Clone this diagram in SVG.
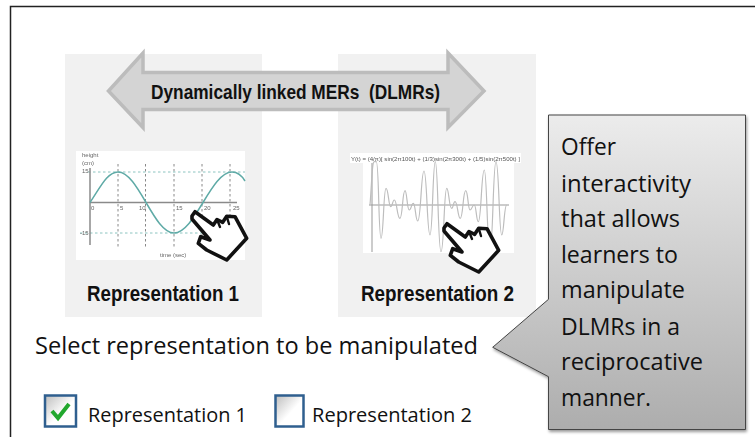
<svg xmlns="http://www.w3.org/2000/svg" width="755" height="437" viewBox="0 0 755 437">
<style>
.bold{font-family:"Liberation Sans",Arial,sans-serif;font-weight:700;fill:#111}
.body{font-family:"Open Sans","Noto Sans",sans-serif;fill:#111}
.tiny{font-family:"Liberation Sans",Arial,sans-serif;fill:#666;font-size:6px}
.panel{fill:#f1f1f1}
.grid{stroke:#888;stroke-width:1;stroke-dasharray:2.5 2.5;fill:none}
.teal{stroke:#8cc4c0;stroke-width:1;stroke-dasharray:2.5 2.5;fill:none}
.box{stroke:#2f5f8f;stroke-width:2.5}
</style>
<defs>
<linearGradient id="cg" x1="0" y1="0" x2="0" y2="1"><stop offset="0" stop-color="#ececec"/><stop offset="1" stop-color="#adadad"/></linearGradient>
<linearGradient id="bg" x1="0" y1="0" x2="1" y2="1"><stop offset="0" stop-color="#bdbdbd"/><stop offset=".55" stop-color="#fff"/></linearGradient>
<filter id="sh" x="-10%" y="-10%" width="125%" height="125%"><feDropShadow dx="1" dy="2" stdDeviation="1.5" flood-color="#000" flood-opacity=".4"/></filter>
<filter id="soft" x="-5%" y="-5%" width="110%" height="110%"><feGaussianBlur stdDeviation=".45"/></filter>
<g id="hand">
<path d="M192,216 L195,211.700 L213.300,225 L217,219.500 L222.700,222.300 L226.700,216.300 L235,216.700 L246.700,238.300 L226.700,260 L206.700,250 L198.300,243.300 L200.700,236.700 L210,240 L192,219Z" fill="#fff" stroke="#111" stroke-width="3.600" stroke-linejoin="round"/>
<path d="M217,219.500 L220,227 M226.700,216.300 L229,224" fill="none" stroke="#111" stroke-width="2.400" stroke-linecap="round"/>
</g>
</defs>
<rect width="755" height="437" fill="#fff"/>
<path id="frame" d="M10.500,437V6.500H755" fill="none" stroke="#222" stroke-width="1.500"/>
<g id="panel-1">
<rect class="panel" x="65" y="54" width="197" height="263"/>
<rect x="76" y="151" width="169" height="109" fill="#fff"/>
<g filter="url(#soft)">
<path class="grid" d="M118,164V249M145.500,164V249M174,164V249M202,164V249M230,164V249"/>
<path class="teal" d="M88,172H245M80,233H240"/>
<path d="M90,168V245M90,202.500H237" fill="none" stroke="#8a8a8a" stroke-width="1.500"/>
<path d="M90,202.500C100,188 107,172 118,172C138.400,172 153.600,233 174,233C195,233 211,172 232,172C238,172 242,176 245,181" fill="none" stroke="#5eaaa6" stroke-width="1.500"/>
<text class="tiny" x="82" y="157">height</text><text class="tiny" x="82" y="165">(cm)</text>
<text class="tiny" x="82" y="173">15</text><text class="tiny" x="80" y="235">-15</text>
<text class="tiny" x="91" y="210">0</text><text class="tiny" x="120" y="210">5</text><text class="tiny" x="139" y="210">10</text><text class="tiny" x="176" y="210">15</text><text class="tiny" x="204" y="210">20</text><text class="tiny" x="233" y="210">25</text>
<text class="tiny" x="160" y="257">time (sec)</text>
</g>
<text class="bold" x="87" y="300.500" font-size="22" textLength="152" lengthAdjust="spacingAndGlyphs">Representation 1</text>
</g>
<g id="panel-2">
<rect class="panel" x="338" y="54" width="198" height="263"/>
<rect x="350" y="153" width="171" height="10" fill="#fff"/>
<rect x="363" y="163" width="151" height="90" fill="#fff"/>
<g filter="url(#soft)">
<text class="tiny" x="351" y="160.500" font-size="6" textLength="169" lengthAdjust="spacingAndGlyphs" style="fill:#555">Y(t) = (4/π)[ sin(2π100t) + (1/3)sin(2π300t) + (1/5)sin(2π500t) ]</text>
<path d="M372,163V252M369,205H509" fill="none" stroke="#999" stroke-width="1"/>
<path d="M370,205C372,180 372,161.700 374.300,161.700L376.300,161.700C379,161.700 378.500,238.300 381,238.300C383.500,238.300 383.500,188.300 386,188.300C388.500,188.300 388.500,206.700 390.700,206.700C392.500,206.700 392.500,200 394.300,200C397,200 397,218.300 400,218.300C402.500,218.300 402.500,190.700 405,190.700C407,190.700 407,210 409.300,210C411.300,210 411.300,203.300 413.300,203.300C415.500,203.300 415.500,221 417.700,221C421,221 421,171 424,171C427,171 427,235 430,235C432.700,235 432.700,161.700 435.300,161.700C438,161.700 438,251.700 441,251.700C444,251.700 444,188.300 446.700,188.300C449,188.300 449,208.300 451.700,208.300C453.300,208.300 453.300,201.700 455,201.700C457.700,201.700 457.700,218.300 460.300,218.300C463,218.300 463,190.700 465.700,190.700C468,190.700 468,210 470,210C472,210 472,205 474.300,205C476.300,205 476.300,221.700 478.300,221.700C481.300,221.700 481.300,170 484.300,170C487,170 487,250 490,250C493,250 493,161.700 496,161.700C499,161.700 499,235 501.700,235C504,235 504,205 506.700,205" fill="none" stroke="#bdbdbd" stroke-width="1.200"/>
</g>
<text class="bold" x="361" y="300.500" font-size="22" textLength="153" lengthAdjust="spacingAndGlyphs">Representation 2</text>
</g>
<g id="hands">
<use href="#hand"/>
<use href="#hand" x="252" y="12"/>
</g>
<g id="linked-arrow">
<path d="M108.500,91L143,53V72.500H448V53L484,91L448,127.500V109.500H143V127.500Z" fill="#d4d4d4" stroke="#bcbcbc" stroke-width="3.500" stroke-linejoin="miter"/>
<text class="bold" x="151" y="99" font-size="20.500" textLength="289" lengthAdjust="spacingAndGlyphs" xml:space="preserve">Dynamically linked MERs  (DLMRs)</text>
</g>
<g id="callout">
<path d="M548.500,115H745.500V429.500H548.500V376.700L492.700,347.300L548.500,299.300Z" fill="url(#cg)" stroke="#444" stroke-width="1" filter="url(#sh)"/>
<g class="body" font-size="24">
<text x="561" y="155" textLength="55" lengthAdjust="spacingAndGlyphs">Offer</text>
<text x="561" y="191.500" textLength="130" lengthAdjust="spacingAndGlyphs">interactivity</text>
<text x="561" y="227" textLength="119" lengthAdjust="spacingAndGlyphs">that allows</text>
<text x="561" y="262.500" textLength="117" lengthAdjust="spacingAndGlyphs">learners to</text>
<text x="561" y="298" textLength="124" lengthAdjust="spacingAndGlyphs">manipulate</text>
<text x="561" y="334.500" textLength="119" lengthAdjust="spacingAndGlyphs">DLMRs in a</text>
<text x="561" y="370" textLength="142" lengthAdjust="spacingAndGlyphs">reciprocative</text>
<text x="561" y="406" textLength="90" lengthAdjust="spacingAndGlyphs">manner.</text>
</g>
</g>
<g id="prompt"><text class="body" x="35" y="354" font-size="24" textLength="443" lengthAdjust="spacingAndGlyphs">Select representation to be manipulated</text></g>
<g id="option-1">
<rect class="box" x="45" y="395.500" width="31" height="31" fill="url(#bg)"/>
<path d="M52,411L58,418L69,404" fill="none" stroke="#22a82e" stroke-width="4"/>
<text class="body" x="88" y="421.500" font-size="20" textLength="159" lengthAdjust="spacingAndGlyphs">Representation 1</text>
</g>
<g id="option-2">
<rect class="box" x="275.500" y="395.500" width="28" height="31" fill="url(#bg)"/>
<text class="body" x="312" y="421.500" font-size="20" textLength="160" lengthAdjust="spacingAndGlyphs">Representation 2</text>
</g>
</svg>
